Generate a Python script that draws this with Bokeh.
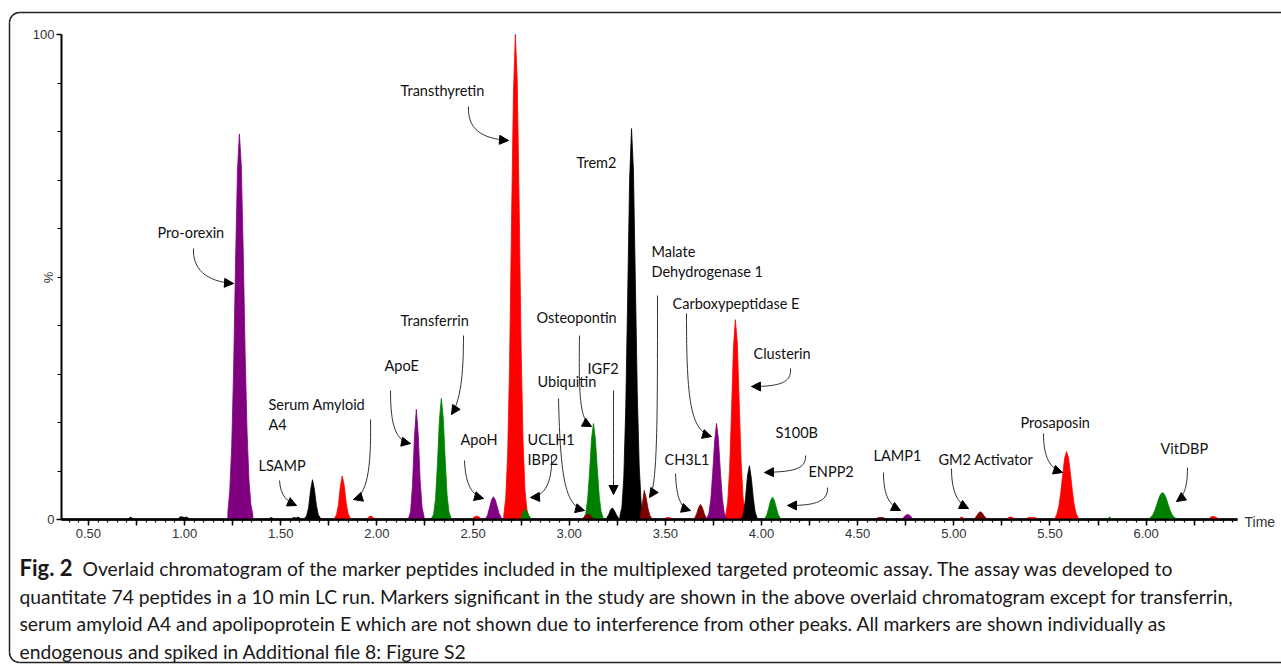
from bokeh.plotting import figure
from bokeh.models import Range1d, FixedTicker, Label, Arrow, NormalHead
from bokeh.embed import file_html
from bokeh.resources import INLINE

# ---------------------------------------------------------------- data
TIME_TICK_LABELS = ["0.50", "1.00", "1.50", "2.00", "2.50", "3.00",
                    "3.50", "4.00", "4.50", "5.00", "5.50", "6.00"]
SAMPLE_STEP = 0.01  # min between chromatogram scans

PEAK_NAMES = ["Pro-orexin", "LSAMP", "Serum Amyloid A4", "ApoE", "Transferrin",
              "ApoH", "Transthyretin", "UCLH1 IBP2", "Ubiquitin", "Osteopontin",
              "IGF2", "Trem2", "Malate Dehydrogenase 1", "CH3L1",
              "Carboxypeptidase E", "Clusterin", "S100B", "ENPP2", "LAMP1",
              "GM2 Activator", "Prosaposin", "VitDBP"]
PEAK_TRACE = ["purple", "black", "red", "purple", "green",
              "purple", "red", "green", "maroon", "green",
              "black", "black", "maroon", "maroon",
              "purple", "red", "black", "green", "purple",
              "maroon", "red", "green"]
PEAK_START = [1.225, 1.625, 1.780, 2.165, 2.285,
              2.566, 2.660, 2.750, 3.070, 3.076,
              3.195, 3.264, 3.370, 3.653,
              3.716, 3.814, 3.897, 4.017, 4.735,
              5.110, 5.526, 6.015]
PEAK_INTENSITY = [
    [1.5, 6, 15, 31, 53, 72, 79.5, 73, 55, 34, 18, 8, 3, 1],
    [0.3, 0.8, 2.5, 6, 8.2, 6.2, 3, 1, 0.4],
    [0.3, 1, 3, 6.8, 9, 7, 3.5, 1.2, 0.4],
    [0.3, 1.6, 7, 16.8, 22.7, 17.5, 8, 2.5, 0.6],
    [0.3, 1.1, 4.3, 11.5, 20.5, 25, 21, 12.5, 5, 1.5, 0.4],
    [0.2, 1, 2.5, 4.0, 4.7, 4.0, 2.6, 1.2, 0.4],
    [1, 4.4, 13.5, 32, 61, 88, 100, 90, 64, 35, 16, 6, 2, 0.6],
    [0.5, 1.5, 2.2, 1.6, 0.8, 0.3],
    [0.2, 0.6, 1, 1.2, 0.8, 0.4, 0.1],
    [0.3, 1.25, 4.2, 9.9, 16.6, 19.8, 16.6, 10.5, 4.8, 1.6, 0.4],
    [0.3, 1, 2, 2.4, 1.8, 1.0, 0.4],
    [0.8, 2.5, 8.8, 23, 46, 70, 80.6, 72, 49, 26, 11, 3.5, 1],
    [0.5, 3, 6, 4.5, 2.2, 0.8, 0.2],
    [0.3, 1.2, 2.5, 3.1, 2.4, 1.1, 0.3],
    [0.3, 1.2, 4, 9.5, 16, 19.8, 16.5, 10, 4.5, 1.4, 0.4],
    [0.9, 3.5, 10.3, 22.3, 35.4, 41.2, 36.5, 24, 12, 4.5, 1.3, 0.4],
    [0.3, 1.2, 4.5, 9, 11.1, 8.5, 4.5, 1.5, 0.3],
    [0.2, 0.9, 2.3, 3.9, 4.6, 3.9, 2.4, 1.0, 0.3],
    [0.2, 0.7, 1.0, 1.0, 0.7, 0.2],
    [0.3, 0.8, 1.4, 1.6, 1.2, 0.6, 0.2],
    [0.3, 1.1, 2.7, 5.5, 9.2, 12.6, 14, 12.8, 9.6, 6, 3, 1.2, 0.4],
    [0.2, 0.48, 1.0, 1.85, 3.0, 4.3, 5.2, 5.6, 5.2, 4.3, 3.0, 1.85, 1.0, 0.48, 0.2],
]

# small unassigned features along the baseline
NOISE_TRACE = ["black", "black", "black", "black", "red", "red", "red",
               "maroon", "red", "red", "red", "green", "red"]
NOISE_START = [0.71, 0.97, 1.44, 1.56, 1.95, 2.50, 3.50,
               4.60, 5.03, 5.28, 5.38, 5.80, 6.33]
NOISE_INTENSITY = [
    [0.2, 0.5, 0.2],
    [0.3, 0.6, 0.5, 0.4, 0.5, 0.3],
    [0.2, 0.4, 0.2],
    [0.3, 0.4, 0.3, 0.5, 0.3],
    [0.2, 0.6, 0.7, 0.4, 0.1],
    [0.3, 0.6, 0.7, 0.5, 0.2],
    [0.3, 0.4, 0.4, 0.3],
    [0.3, 0.4, 0.4, 0.4, 0.3],
    [0.3, 0.5, 0.3],
    [0.3, 0.5, 0.5, 0.3],
    [0.3, 0.4, 0.4, 0.4, 0.4, 0.3],
    [0.2, 0.5, 0.2],
    [0.3, 0.6, 0.6, 0.5, 0.3],
]

CAPTION_BOLD = "Fig. 2"
CAPTION_LINES = [
    "Overlaid chromatogram of the marker peptides included in the multiplexed targeted proteomic assay. The assay was developed to",
    "quantitate 74 peptides in a 10 min LC run. Markers significant in the study are shown in the above overlaid chromatogram except for transferrin,",
    "serum amyloid A4 and apolipoprotein E which are not shown due to interference from other peaks. All markers are shown individually as",
    "endogenous and spiked in Additional file 8: Figure S2",
]

# ---------------------------------------------------------------- styling / layout
TRACE_COLORS = {"purple": "#800080", "black": "#000000", "red": "#ff0000",
                "green": "#008000", "maroon": "#7f0000"}

W, H = 1281, 665
# pixel box of the axes inside the canvas and the data extent they span
AX_L, AX_R, AX_T, AX_B = 61, 1237, 34, 519
T_MIN, T_MAX = 0.36, 6.475
I_MIN, I_MAX = 0.0, 100.0

LABEL_FONT = "Lato"
AXIS_FONT = "Liberation Sans"
CAPTION_FONT = "Lato"


def to_data(px, py):
    """Canvas pixel position -> (time, %) in the plot's data space."""
    x = T_MIN + (px - AX_L) / (AX_R - AX_L) * (T_MAX - T_MIN)
    y = I_MIN + (AX_B - py) / (AX_B - AX_T) * (I_MAX - I_MIN)
    return x, y


# the data frame fills the whole canvas; the axes sit at fixed data positions
X0, Y1 = to_data(0, 0)
X1, Y0 = to_data(W, H)

# callout placement: text lines, text anchor, then curve start, two controls, tip
CALLOUTS = [
    (["Pro-orexin"], (157, 232), [(193, 248), (192, 268), (205, 281), (233, 283)]),
    (["Transthyretin"], (400, 90), [(468, 106), (467, 128), (480, 138), (508, 140)]),
    (["Trem2"], (576, 162), None),
    (["LSAMP"], (258, 465), [(279, 480), (280, 496), (287, 501), (296, 505)]),
    (["Serum Amyloid", "A4"], (268, 404), [(370, 419), (371, 470), (366, 495), (353, 499)]),
    (["ApoE"], (384, 365), [(390, 390), (390, 425), (395, 440), (410, 443)]),
    (["Transferrin"], (400, 320), [(463, 335), (463, 375), (460, 400), (451, 414)]),
    (["ApoH"], (460, 439), [(464, 460), (465, 485), (472, 495), (483, 498)]),
    (["UCLH1", "IBP2"], (527, 439), [(551, 456), (552, 480), (545, 496), (530, 497)]),
    (["Ubiquitin"], (537, 381), [(558, 398), (560, 480), (565, 505), (584, 510)]),
    (["Osteopontin"], (536, 317), [(579, 335), (578, 400), (580, 420), (591, 426)]),
    (["IGF2"], (587, 368), [(613, 390), (613, 430), (613, 470), (613, 494)]),
    (["Malate", "Dehydrogenase 1"], (651, 251), [(657, 295), (657, 420), (657, 485), (649, 497)]),
    (["Carboxypeptidase E"], (672, 303), [(686, 313), (686, 400), (690, 430), (711, 436)]),
    (["Clusterin"], (753, 353), [(790, 368), (791, 382), (780, 386), (751, 386)]),
    (["S100B"], (775, 432), [(805, 455), (806, 470), (790, 471), (764, 472)]),
    (["ENPP2"], (808, 471), [(827, 487), (828, 503), (810, 505), (787, 505)]),
    (["CH3L1"], (664, 459), [(675, 473), (676, 498), (680, 507), (690, 510)]),
    (["LAMP1"], (873, 455), [(883, 472), (883, 497), (890, 505), (900, 510)]),
    (["GM2 Activator"], (938, 459), [(951, 468), (951, 493), (958, 503), (968, 508)]),
    (["Prosaposin"], (1020, 422), [(1043, 433), (1043, 458), (1050, 468), (1062, 472)]),
    (["VitDBP"], (1160, 448), [(1187, 467), (1187, 488), (1183, 496), (1176, 501)]),
]

# ---------------------------------------------------------------- figure
p = figure(width=W, height=H, output_backend="svg", toolbar_location=None,
           x_range=Range1d(X0, X1), y_range=Range1d(Y0, Y1),
           min_border=0)
p.outline_line_color = None
p.grid.visible = False
p.background_fill_color = "white"
p.border_fill_color = "white"


def peak_polygon(start, values):
    xs = [start] + [start + i * SAMPLE_STEP for i in range(len(values))]
    xs.append(xs[-1])
    ys = [0.0] + list(values) + [0.0]
    return xs, ys


# continuous black trace baseline
p.line([T_MIN, T_MAX], [0, 0], line_color="black", line_width=2.5)

# baseline features first, then peaks from tallest to smallest
for trace, start, vals in zip(NOISE_TRACE, NOISE_START, NOISE_INTENSITY):
    xs, ys = peak_polygon(start, vals)
    c = TRACE_COLORS[trace]
    p.patch(xs, ys, fill_color=c, line_color=c, line_width=0.8)

order = sorted(range(len(PEAK_NAMES)), key=lambda i: -max(PEAK_INTENSITY[i]))
for i in order:
    xs, ys = peak_polygon(PEAK_START[i], PEAK_INTENSITY[i])
    c = TRACE_COLORS[PEAK_TRACE[i]]
    p.patch(xs, ys, fill_color=c, line_color=c, line_width=0.8)

# ---------------------------------------------------------------- axes
xa = p.xaxis[0]
xa.fixed_location = 0
xa.bounds = (T_MIN, T_MAX)
major = [0.5 + 0.25 * k for k in range(24)]
xa.ticker = FixedTicker(ticks=major,
                        minor_ticks=[round(0.40 + 0.05 * k, 2) for k in range(122)])
overrides = {}
for k, t in enumerate(major):
    overrides[t] = TIME_TICK_LABELS[k // 2] if k % 2 == 0 else ""
xa.major_label_overrides = overrides
xa.axis_line_width = 2
xa.axis_line_color = "black"
xa.major_tick_line_width = 1.5
xa.minor_tick_line_width = 1.2
xa.major_tick_in = 0
xa.major_tick_out = 6
xa.minor_tick_in = 0
xa.minor_tick_out = 3
xa.major_label_standoff = 3
xa.major_label_text_font = AXIS_FONT
xa.major_label_text_font_size = "13px"
xa.major_label_text_color = "#333333"

ya = p.yaxis[0]
ya.fixed_location = T_MIN
ya.bounds = (I_MIN, I_MAX)
ya.ticker = FixedTicker(ticks=[0, 100], minor_ticks=[10 * k for k in range(1, 10)])
ya.axis_line_width = 2
ya.axis_line_color = "black"
ya.major_tick_in = 0
ya.major_tick_out = 5
ya.minor_tick_in = 0
ya.minor_tick_out = 4
ya.major_tick_line_width = 1.5
ya.minor_tick_line_width = 1.2
ya.major_label_standoff = 2
ya.major_label_text_font = AXIS_FONT
ya.major_label_text_font_size = "13px"
ya.major_label_text_color = "#333333"

px_, py_ = to_data(48, 277)
p.add_layout(Label(x=px_, y=py_, text="%", angle=1.5708, text_align="center",
                   text_baseline="middle", text_font=AXIS_FONT,
                   text_font_size="13px", text_color="#333333"))
tx, ty = to_data(1244, 521)
p.add_layout(Label(x=tx, y=ty, text="Time", text_align="left",
                   text_baseline="middle", text_font=AXIS_FONT,
                   text_font_size="14px", text_color="#333333"))

# ---------------------------------------------------------------- callouts
for lines, (lx, ly), curve in CALLOUTS:
    for j, line in enumerate(lines):
        x, y = to_data(lx, ly + 20 * j)
        p.add_layout(Label(x=x, y=y, text=line, text_align="left",
                           text_baseline="middle", text_font=LABEL_FONT,
                           text_font_size="14.5px", text_color="#111111"))
    if curve is None:
        continue
    (s, c1, c2, e) = [to_data(*pt) for pt in curve]
    p.bezier(x0=[s[0]], y0=[s[1]], x1=[e[0]], y1=[e[1]],
             cx0=[c1[0]], cy0=[c1[1]], cx1=[c2[0]], cy1=[c2[1]],
             line_color="#333333", line_width=1)
    p.add_layout(Arrow(end=NormalHead(size=9, fill_color="black", line_color="black",
                                      line_width=1),
                       x_start=c2[0], y_start=c2[1], x_end=e[0], y_end=e[1],
                       line_alpha=0))

# ---------------------------------------------------------------- caption
for j, line in enumerate(CAPTION_LINES):
    x0 = 82 if j == 0 else 19
    x, y = to_data(x0, 568 + 27.5 * j)
    p.add_layout(Label(x=x, y=y, text=line, text_align="left", text_baseline="middle",
                       text_font=CAPTION_FONT, text_font_size="19.3px",
                       text_color="#1a1718"))
x, y = to_data(19, 567)
p.add_layout(Label(x=x, y=y, text=CAPTION_BOLD, text_align="left",
                   text_baseline="middle", text_font=CAPTION_FONT,
                   text_font_size="22px", text_font_style="bold",
                   text_color="#1a1718"))

# ---------------------------------------------------------------- rounded panel border
R = 10  # corner radius, px
BORDER = dict(line_color="#222222", line_width=1.5)
left_x, top_y = to_data(9, 12)
inner_x, _ = to_data(9 + R, 0)
_, bottom_y = to_data(0, 662)
_, top_inner = to_data(0, 12 + R)
_, bottom_inner = to_data(0, 662 - R)
p.line([inner_x, X1 + 1], [top_y, top_y], **BORDER)
p.line([inner_x, X1 + 1], [bottom_y, bottom_y], **BORDER)
p.line([left_x, left_x], [top_inner, bottom_inner], **BORDER)
p.arc(x=[inner_x], y=[top_inner], radius=R, radius_units="screen",
      start_angle=1.5708, end_angle=3.1416, **BORDER)
p.arc(x=[inner_x], y=[bottom_inner], radius=R, radius_units="screen",
      start_angle=3.1416, end_angle=4.7124, **BORDER)

open("out.html", "w").write(file_html(p, INLINE))
